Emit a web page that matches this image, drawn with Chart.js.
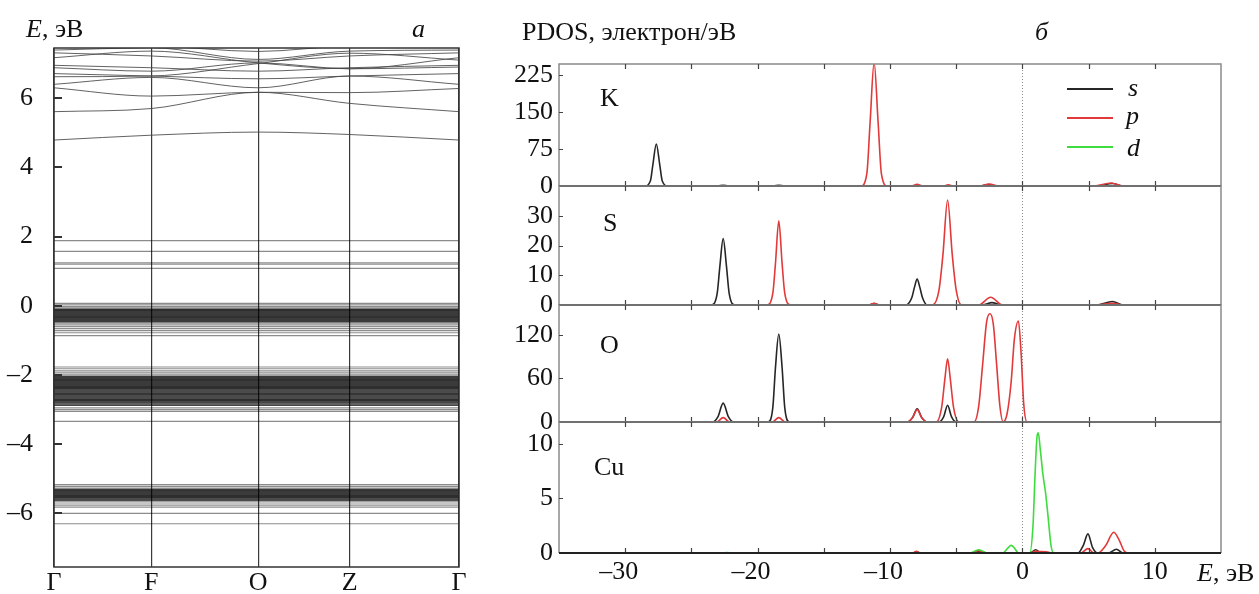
<!DOCTYPE html>
<html>
<head>
<meta charset="utf-8">
<script src="https://cdn.jsdelivr.net/npm/chart.js@4.4.0/dist/chart.umd.min.js"></script>
<style>
  body { margin: 0; background: #fff; width: 1259px; height: 594px; position: relative; overflow: hidden; font-family: "Liberation Serif", serif; }
  canvas { position: absolute; }
  .t { position: absolute; font-size: 26px; line-height: 1; color: #111; white-space: nowrap; }
  .i { font-style: italic; }
  .lg { position: absolute; width: 46px; height: 2px; }
</style>
</head>
<body>
<canvas id="bands" width="470" height="594" style="left:0;top:0"></canvas>
<canvas id="pK" width="740" height="150" style="left:500px;top:50px"></canvas>
<canvas id="pS" width="740" height="147" style="left:500px;top:172px"></canvas>
<canvas id="pO" width="740" height="145" style="left:500px;top:291px"></canvas>
<canvas id="pCu" width="740" height="185" style="left:500px;top:408px"></canvas>

<div class="t" style="left:26px;top:16px"><span class="i">E</span>, эВ</div>
<div class="t i" style="left:412px;top:16px">a</div>
<div class="t" style="left:522px;top:19px">PDOS, электрон/эВ</div>
<div class="t i" style="left:1035px;top:19px">б</div>
<div class="t" style="left:1197px;top:560px"><span class="i">E</span>, эВ</div>

<div class="t" style="left:600px;top:85px">K</div>
<div class="t" style="left:603px;top:210px">S</div>
<div class="t" style="left:600px;top:332px">O</div>
<div class="t" style="left:594px;top:454px">Cu</div>

<div class="lg" style="left:1067px;top:88px;background:#262626"></div>
<div class="lg" style="left:1067px;top:117px;background:#e23a3a"></div>
<div class="lg" style="left:1067px;top:146px;background:#3fdc3f"></div>
<div class="t i" style="left:1128px;top:75px">s</div>
<div class="t i" style="left:1126px;top:103px">p</div>
<div class="t i" style="left:1127px;top:135px">d</div>

<script>
// ---- band structure (panel a) ----
const kPos = [0, 0.24, 0.504, 0.73, 1];
const kLabels = ['Γ', 'F', 'O', 'Z', 'Γ'];
const eTicks = [-6, -4, -2, 0, 2, 4, 6];

// dispersive conduction bands, energies at Γ, F, O, Z, Γ
const condBands = [
  [4.79, 4.93, 5.02, 4.95, 4.79],
  [5.61, 5.70, 6.17, 5.85, 5.61],
  [6.30, 6.06, 6.17, 6.16, 6.28],
  [6.40, 6.60, 6.30, 6.64, 6.40],
  [6.71, 6.64, 6.56, 6.64, 6.71],
  [6.88, 6.78, 7.02, 6.85, 6.90],
  [6.95, 6.88, 6.78, 6.88, 6.95],
  [7.17, 7.36, 7.02, 6.85, 7.17],
  [7.31, 7.22, 7.07, 7.22, 7.31],
  [7.39, 7.46, 7.12, 7.36, 7.39],
  [7.46, 7.50, 7.35, 7.50, 7.46],
  [6.62, 6.64, 7.00, 7.30, 7.10]
];
// nearly flat bands: sparse grey ones and the dense dark cores of each group
const flatBands = [1.88, 1.57, 1.24, 1.20, 1.08,
  0.07, 0.03, -0.02, -0.06, -0.50, -0.55, -0.60, -0.66, -0.72, -0.78, -0.86,
  -1.77, -1.82, -1.88, -1.94, -2.00, -2.95, -3.00, -3.05, -3.34,
  -5.17, -5.22, -5.27, -5.70, -5.76, -5.82, -6.00, -6.30];
const coreTop = [-0.10, -0.13, -0.16, -0.19, -0.22, -0.25, -0.28, -0.31, -0.34, -0.37, -0.40, -0.43, -0.46];
const coreMid = [-2.04, -2.07, -2.10, -2.13, -2.16, -2.19, -2.22, -2.25, -2.28, -2.31, -2.34, -2.37, -2.40, -2.43,
  -2.46, -2.49, -2.52, -2.55, -2.58, -2.61, -2.64, -2.67, -2.70, -2.73, -2.76, -2.80, -2.84, -2.88];
const coreLow = [-5.31, -5.34, -5.37, -5.40, -5.43, -5.46, -5.49, -5.52, -5.55, -5.58, -5.61, -5.64];

const bandSets = [];
condBands.forEach(b => bandSets.push({
  data: b.map((e, i) => ({ x: kPos[i], y: e })),
  borderColor: 'rgba(70,70,70,0.85)', borderWidth: 1, cubicInterpolationMode: 'monotone'
}));
flatBands.forEach(e => bandSets.push({
  data: [{ x: 0, y: e }, { x: 1, y: e }],
  borderColor: 'rgba(0,0,0,0.45)', borderWidth: 1.2
}));
coreTop.concat(coreMid, coreLow).forEach(e => bandSets.push({
  data: [{ x: 0, y: e }, { x: 1, y: e }],
  borderColor: 'rgba(0,0,0,0.72)', borderWidth: 1.4
}));

const bandDeco = {
  id: 'bandDeco',
  afterDatasetsDraw(chart) {
    const { ctx, chartArea: a, scales: { y } } = chart;
    ctx.save();
    ctx.strokeStyle = '#333';
    ctx.lineWidth = 1.5;
    ctx.strokeRect(a.left, a.top, a.right - a.left, a.bottom - a.top);
    ctx.lineWidth = 2;
    ctx.beginPath();
    eTicks.forEach(v => {
      const py = Math.round(y.getPixelForValue(v));
      ctx.moveTo(a.left, py);
      ctx.lineTo(a.left + 8, py);
    });
    ctx.stroke();
    ctx.restore();
  }
};

const serif = { family: '"Liberation Serif", serif', size: 26 };

new Chart(document.getElementById('bands'), {
  type: 'line',
  data: { datasets: bandSets },
  options: {
    responsive: false,
    animation: false,
    layout: { padding: { top: 48, right: 11, left: 0, bottom: 0 } },
    elements: { point: { radius: 0 } },
    plugins: { legend: { display: false }, tooltip: { enabled: false } },
    scales: {
      x: {
        type: 'linear', min: 0, max: 1,
        afterBuildTicks: s => { s.ticks = kPos.map(v => ({ value: v })); },
        afterFit: s => { s.height = 27; s.paddingLeft = 0; s.paddingRight = 0; },
        ticks: { callback: (v, i) => kLabels[i], font: serif, color: '#111', padding: 1, maxRotation: 0, autoSkip: false },
        grid: { color: '#3a3a3a', lineWidth: 1.2, drawTicks: false },
        border: { display: false }
      },
      y: {
        min: -7.55, max: 7.45,
        afterBuildTicks: s => { s.ticks = eTicks.map(v => ({ value: v })); },
        afterFit: s => { s.width = 54; s.paddingTop = 0; s.paddingBottom = 0; },
        ticks: { callback: v => (v < 0 ? '\u2013' + Math.abs(v) : String(v)), font: serif, color: '#111', padding: 21, autoSkip: false },
        grid: { display: false, drawTicks: false },
        border: { display: false }
      }
    }
  },
  plugins: [bandDeco]
});

// ---- PDOS (panel б), [E, states] ----
const eTicksPdos = [-30, -20, -10, 0, 10];
const eMinor = [-30, -25, -20, -15, -10, -5, 0, 5, 10];

const kS = [[-30,0],[-28.5,0],[-28.1,10],[-27.9,45],[-27.65,85],[-27.4,45],[-27.2,10],[-26.8,0],[-23.0,0],[-22.6,1.5],[-22.2,0],
  [-18.8,0],[-18.4,1.5],[-18.0,0],[-3.2,0],[-2.6,3],[-2.0,0],[5.6,0],[6.8,5],[7.6,0],[9.5,0]];
const kP = [[-30,0],[-12.2,0],[-11.75,25],[-11.5,130],[-11.2,250],[-10.9,130],[-10.65,25],[-10.2,0],[-8.4,0],[-7.95,3.5],[-7.5,0],
  [-6.0,0],[-5.6,2.5],[-5.2,0],[-3.2,0],[-2.5,4],[-1.8,0],[5.4,0],[6.7,6],[7.6,0],[9.5,0]];

const sS = [[-30,0],[-23.5,0],[-23.05,4],[-22.85,13],[-22.6,22.3],[-22.35,13],[-22.15,4],[-21.7,0],[-11.6,0],[-11.2,0.5],[-10.8,0],
  [-8.8,0],[-8.35,2.5],[-8.15,6],[-7.95,8.7],[-7.75,6],[-7.55,2.5],[-7.2,0],[-3.0,0],[-2.3,0.8],[-1.6,0],[5.6,0],[6.8,1.2],[7.6,0],[9.5,0]];
const sP = [[-30,0],[-19.3,0],[-18.85,4],[-18.65,14],[-18.4,28.3],[-18.15,14],[-17.95,4],[-17.5,0],[-11.6,0],[-11.2,0.6],[-10.8,0],
  [-6.8,0],[-6.3,5],[-6.0,17],[-5.65,35.3],[-5.3,17],[-5.0,5],[-4.6,0],[-3.3,0],[-2.4,2.6],[-1.5,0],[5.6,0],[6.8,0.6],[7.6,0],[9.5,0]];

const oS = [[-30,0],[-23.4,0],[-23.0,7],[-22.6,26],[-22.2,7],[-21.8,0],[-19.2,0],[-18.85,20],[-18.65,75],[-18.4,121],[-18.15,75],[-17.95,20],[-17.6,0],
  [-8.7,0],[-8.3,6],[-7.95,18],[-7.6,6],[-7.2,0],[-6.3,0],[-5.95,7],[-5.65,23],[-5.35,7],[-5.0,0],[9.5,0]];
const oP = [[-30,0],[-23.1,0],[-22.6,6],[-22.1,0],[-18.9,0],[-18.4,6],[-17.9,0],[-8.7,0],[-8.3,6],[-7.95,17],[-7.6,6],[-7.2,0],
  [-6.5,0],[-6.1,20],[-5.85,60],[-5.65,87],[-5.45,60],[-5.2,20],[-4.8,0],[-3.65,0],[-3.3,22],[-3.0,80],[-2.7,138],[-2.45,149],
  [-2.2,135],[-1.95,80],[-1.7,22],[-1.45,0],[-1.15,12],[-0.85,55],[-0.6,115],[-0.3,139],[-0.1,95],[0.1,25],[0.35,0],[9.5,0]];

const cuS = [[-30,0],[-8.3,0],[-8.0,0.12],[-7.7,0],[-3.8,0],[-3.3,0.15],[-2.8,0],[0.6,0],[1.0,0.3],[1.4,0],[4.2,0],[4.6,0.7],
  [4.95,1.75],[5.3,0.5],[5.7,0],[6.5,0],[7.1,0.35],[7.6,0],[9.5,0]];
const cuP = [[-30,0],[-8.3,0],[-8.0,0.15],[-7.7,0],[-3.8,0],[-3.3,0.2],[-2.8,0],[0.5,0],[1.0,0.15],[1.8,0.12],[2.2,0],[4.4,0],
  [4.95,0.4],[5.4,0],[5.7,0],[6.3,0.7],[6.9,1.9],[7.3,1.2],[7.7,0.15],[8.0,0],[9.5,0]];
const cuD = [[-30,0],[-22.6,0],[-22.3,0.05],[-22.0,0],[-4.0,0],[-3.3,0.3],[-2.6,0],[-1.5,0],[-1.1,0.45],[-0.85,0.7],[-0.6,0.45],
  [-0.3,0],[0.55,0],[0.8,2.5],[0.95,7],[1.1,10.6],[1.2,11],[1.35,9.5],[1.55,7.2],[1.75,5.5],[1.95,3.2],[2.15,0.8],[2.35,0],[9.5,0]];

const colS = '#262626', colP = '#e23a3a', colD = '#3fdc3f';

const pdosDeco = {
  id: 'pdosDeco',
  beforeDatasetsDraw(chart) {
    const { ctx, chartArea: a, scales: { x } } = chart;
    ctx.save();
    const x0 = Math.round(x.getPixelForValue(0)) + 0.5;
    ctx.strokeStyle = '#8c8c8c';
    ctx.lineWidth = 1;
    ctx.setLineDash([1, 2]);
    ctx.beginPath();
    ctx.moveTo(x0, a.top);
    ctx.lineTo(x0, a.bottom);
    ctx.stroke();
    ctx.restore();
  },
  afterDatasetsDraw(chart) {
    const { ctx, chartArea: a, scales: { x, y } } = chart;
    ctx.save();
    ctx.strokeStyle = '#8a8a8a';
    ctx.lineWidth = 1.5;
    ctx.beginPath();
    ctx.moveTo(a.left, a.bottom); ctx.lineTo(a.left, a.top); ctx.lineTo(a.right, a.top); ctx.lineTo(a.right, a.bottom);
    ctx.stroke();
    ctx.strokeStyle = '#444';
    ctx.lineWidth = 1.2;
    ctx.beginPath();
    eMinor.forEach(v => {
      const px = Math.round(x.getPixelForValue(v)) + 0.5;
      ctx.moveTo(px, a.top); ctx.lineTo(px, a.top + 5);
      ctx.moveTo(px, a.bottom); ctx.lineTo(px, a.bottom - 5);
    });
    y.ticks.forEach(t => {
      const py = Math.round(y.getPixelForValue(t.value)) + 0.5;
      if (t.value > 0) { ctx.moveTo(a.left, py); ctx.lineTo(a.left + 4, py); }
    });
    ctx.stroke();
    ctx.strokeStyle = '#222';
    ctx.lineWidth = 2;
    ctx.beginPath();
    ctx.moveTo(a.left, a.bottom); ctx.lineTo(a.right, a.bottom);
    ctx.stroke();
    ctx.restore();
  }
};

function pts(arr) { return arr.map(p => ({ x: p[0], y: p[1] })); }

function pdosPanel(id, ymax, yTicks, s, p, d, withAxis) {
  const sets = [];
  if (d) sets.push({ data: pts(d), borderColor: colD, borderWidth: 1.6, order: 0 });
  sets.push({ data: pts(p), borderColor: colP, borderWidth: 1.6, order: 1 });
  sets.push({ data: pts(s), borderColor: colS, borderWidth: 1.6, order: 2 });
  sets.forEach(ds => { ds.cubicInterpolationMode = 'monotone'; });
  new Chart(document.getElementById(id), {
    type: 'line',
    data: { datasets: sets },
    options: {
      responsive: false,
      animation: false,
      layout: { padding: { top: 14, bottom: withAxis ? 0 : 14, left: 0, right: 19 } },
      elements: { point: { radius: 0 } },
      plugins: { legend: { display: false }, tooltip: { enabled: false } },
      scales: {
        x: {
          type: 'linear', min: -35, max: 15, display: withAxis,
          afterBuildTicks: sc => { sc.ticks = eTicksPdos.map(v => ({ value: v })); },
          afterFit: sc => {
            if (withAxis) sc.height = 40;
            sc.paddingLeft = 0; sc.paddingRight = 0;
          },
          ticks: {
            callback: v => (v < 0 ? '\u2013' + Math.abs(v) + '\u2002' : String(v)),
            font: serif, color: '#111', padding: 4, maxRotation: 0, autoSkip: false
          },
          grid: { display: false, drawTicks: false },
          border: { display: false }
        },
        y: {
          min: 0, max: ymax,
          afterBuildTicks: sc => { sc.ticks = yTicks.map(v => ({ value: v })); },
          afterFit: sc => { sc.width = 59; sc.paddingTop = 0; sc.paddingBottom = 0; },
          ticks: { font: serif, color: '#111', padding: 6, autoSkip: false },
          grid: { display: false, drawTicks: false },
          border: { display: false }
        }
      }
    },
    plugins: [pdosDeco]
  });
}

pdosPanel('pK', 247, [0, 75, 150, 225], kS, kP, null, false);
pdosPanel('pS', 40, [0, 10, 20, 30], sS, sP, null, false);
pdosPanel('pO', 161, [0, 60, 120], oS, oP, null, false);
pdosPanel('pCu', 12, [0, 5, 10], cuS, cuP, cuD, true);
</script>
</body>
</html>
